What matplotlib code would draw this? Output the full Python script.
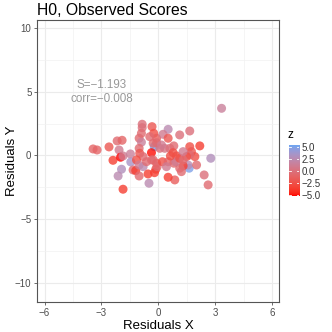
import numpy as np
import matplotlib
matplotlib.use("Agg")
import matplotlib.pyplot as plt
from matplotlib.colors import ListedColormap, to_rgb

plt.rcParams['font.family'] = ['Liberation Sans', 'DejaVu Sans']

title = "H0, Observed Scores"
x_label = "Residuals X"
y_label = "Residuals Y"
annot = "S=\u22121.193\ncorr=\u22120.008"
legend_title = "z"

res_x = [-3.44, -3.23, -2.60, -2.17, -1.91, -2.07, -2.39, -1.99, -1.86, -1.47,
         -1.45, -1.94, -2.12, -1.86, -0.85, -0.85, -0.33, -1.01, -0.89, -0.24,
         -0.21, -0.36, -1.01, -0.98, -0.80, -1.15, -1.33, -1.19, -1.01, -0.80,
         -1.01, -0.54, -0.49, -0.62, -0.36, -0.09, -0.13, -0.27, -0.09, -0.89,
         3.34, 0.52, 0.25, 0.52, 1.13, 1.66, 0.08, 0.34, 0.61, 0.82,
         0.78, 0.96, 1.66, 2.19, 1.75, 1.93, 1.66, 1.49, 2.77, 1.63,
         1.57, 1.31, 2.02, 2.42, 2.63, 1.13, 1.22, 0.87, 0.52, -0.20,
         -0.06, 0.22, 0.52, 0.82, 0.43, 0.92, -0.27, 0.64, 1.13, 1.31,
         -0.45, -0.09, 0.17, 1.31]
res_y = [0.51, 0.43, 0.67, 1.14, 1.19, 0.43, -0.38, -0.14, -0.04, 0.12,
         -0.51, -1.08, -1.61, -2.65, 2.45, 2.18, 2.26, 1.35, 1.04, 1.74,
         0.69, 0.22, 0.56, 0.17, -0.09, -0.35, -1.14, -1.19, -0.75, -0.88,
         -1.61, -1.45, -2.18, -0.49, -0.35, -0.61, -1.08, 0.96, 1.35, 1.74,
         3.70, 2.05, 1.66, 1.35, 1.61, 1.92, 0.56, 0.56, 0.56, 0.75,
         0.22, -0.04, 0.69, 0.75, 0.30, -0.09, 0.04, -0.09, -0.22, -1.00,
         -0.75, -0.82, -0.75, -1.53, -2.31, -1.00, -1.27, -1.92, -1.71, -1.35,
         -0.88, -0.49, -0.49, -0.61, -0.88, -0.49, -0.35, -0.04, -0.22, -0.35,
         1.47, 1.00, 0.82, 0.30]
z = [-1.0, -1.0, -2.0, -0.5, -1.0, 1.0, -3.5, -5.2, 1.0, 1.5,
     3.5, 3.0, 2.5, -3.5, 0.0, 0.0, -2.0, -0.5, 1.5, -2.5,
     5.5, -5.0, -0.5, -2.0, -0.5, -2.5, -0.5, -3.5, 1.0, 2.5,
     -0.5, -3.5, 2.5, -0.5, -0.5, -2.0, -2.5, -0.5, -1.5, -0.5,
     1.5, 2.5, 1.0, -2.0, 0.0, 0.0, 0.0, 0.5, 0.0, -0.5,
     -2.5, -2.5, -2.5, -3.5, -2.0, -2.5, -0.5, -2.5, 3.0, 5.0,
     2.5, -3.5, -0.5, 0.0, -0.5, -0.5, -0.5, -1.5, -3.5, -3.5,
     -0.5, -2.5, -1.0, -0.5, 1.0, 1.0, -0.5, -2.5, -2.5, -0.5,
     -0.5, -0.5, 1.0, 1.0]
x_ticks = [-6, -3, 0, 3, 6]
y_ticks = [-10, -5, 0, 5, 10]
z_ticks = [5.0, 2.5, 0.0, -2.5, -5.0]


# --- Lab interpolation (like ggplot's scale_colour_gradient) ---
def srgb_to_lab(rgb):
    rgb = np.asarray(rgb, float)
    lin = np.where(rgb <= 0.04045, rgb / 12.92, ((rgb + 0.055) / 1.055) ** 2.4)
    M = np.array([[0.4124, 0.3576, 0.1805], [0.2126, 0.7152, 0.0722], [0.0193, 0.1192, 0.9505]])
    xyz = M @ lin
    xyz = xyz / np.array([0.95047, 1.0, 1.08883])
    f = np.where(xyz > 0.008856, np.cbrt(xyz), 7.787 * xyz + 16 / 116)
    return np.array([116 * f[1] - 16, 500 * (f[0] - f[1]), 200 * (f[1] - f[2])])


def lab_to_srgb(lab):
    L, a, b = lab
    fy = (L + 16) / 116
    fx = fy + a / 500
    fz = fy - b / 200
    f = np.array([fx, fy, fz])
    xyz = np.where(f ** 3 > 0.008856, f ** 3, (f - 16 / 116) / 7.787)
    xyz = xyz * np.array([0.95047, 1.0, 1.08883])
    Minv = np.array([[3.2406, -1.5372, -0.4986], [-0.9689, 1.8758, 0.0415], [0.0557, -0.2040, 1.0570]])
    lin = Minv @ xyz
    lin = np.clip(lin, 0, 1)
    rgb = np.where(lin <= 0.0031308, 12.92 * lin, 1.055 * lin ** (1 / 2.4) - 0.055)
    return np.clip(rgb, 0, 1)


low_lab = srgb_to_lab(to_rgb("#FF0000"))
high_lab = srgb_to_lab(to_rgb("#6EA6F2"))
cols = [lab_to_srgb(low_lab + (high_lab - low_lab) * t) for t in np.linspace(0, 1, 256)]
cmap = ListedColormap(cols)

zmin, zmax = min(z), max(z)

W, H = 332, 332
fig = plt.figure(figsize=(W / 100, H / 100), dpi=100)
ax = fig.add_axes([37 / W, 1 - 302 / H, (279 - 37) / W, (302 - 20) / H])

ax.set_xlim(-6.40, 6.37)
ax.set_ylim(-11.5, 10.63)
ax.set_xticks(x_ticks)
ax.set_yticks(y_ticks)
ax.set_xticks([-4.5, -1.5, 1.5, 4.5], minor=True)
ax.set_yticks([-7.5, -2.5, 2.5, 7.5], minor=True)
ax.grid(True, which='major', color='#EBEBEB', linewidth=0.8)
ax.grid(True, which='minor', color='#F2F2F2', linewidth=0.5)
ax.set_axisbelow(True)
ax.tick_params(which='minor', length=0)
ax.tick_params(which='major', length=2.5, width=0.6, color='#555555',
               labelsize=7, labelcolor='#4D4D4D', pad=1.5)
for s in ax.spines.values():
    s.set_color('#555555')
    s.set_linewidth(0.8)

ax.scatter(res_x, res_y, c=z, cmap=cmap, vmin=zmin, vmax=zmax, s=42,
           alpha=0.8, edgecolors='none', zorder=3)

ax.text(-3.0, 4.98, annot, ha='center', va='center', fontsize=8.4,
        color='#999999', linespacing=1.15)

ax.set_xlabel(x_label, fontsize=9.5, labelpad=2)
ax.set_ylabel(y_label, fontsize=9.5)
ax.yaxis.label.set_va('center')
ax.yaxis.set_label_coords(-25 / 242, 0.5)
fig.text(37 / W, 1 - 15 / H, title, fontsize=11.3, ha='left', va='baseline')

# colour bar legend
cax = fig.add_axes([289 / W, 1 - 196 / H, 10 / W, 51 / H])
grad = np.linspace(zmin, zmax, 256).reshape(-1, 1)
cax.imshow(grad, aspect='auto', cmap=cmap, origin='lower',
           extent=[0, 1, zmin, zmax], vmin=zmin, vmax=zmax)
cax.set_xlim(0, 1)
cax.set_ylim(zmin, zmax)
cax.set_xticks([])
cax.yaxis.tick_right()
cax.set_yticks(z_ticks)
cax.set_yticklabels([f"{v:.1f}".replace('-', '\u2212') for v in z_ticks])
cax.tick_params(axis='y', length=0, labelsize=7, labelcolor='#333333', pad=2)
for v in z_ticks:
    cax.plot([0, 0.2], [v, v], color='white', lw=0.6)
    cax.plot([0.8, 1], [v, v], color='white', lw=0.6)
for s in cax.spines.values():
    s.set_visible(False)
fig.text(288 / W, 1 - 138 / H, legend_title, fontsize=8.5, ha='left', va='baseline')

fig.savefig("out.png", dpi=100)
